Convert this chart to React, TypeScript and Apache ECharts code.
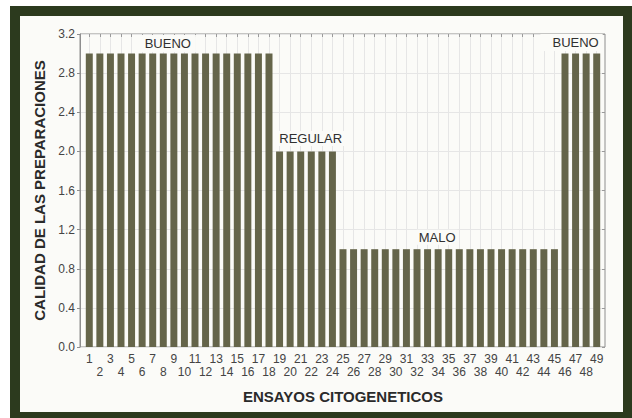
import React, { useEffect, useRef } from "react";
import * as echarts from "echarts";

const categories = [
  "1", "2", "3", "4", "5", "6", "7", "8", "9", "10",
  "11", "12", "13", "14", "15", "16", "17", "18", "19", "20",
  "21", "22", "23", "24", "25", "26", "27", "28", "29", "30",
  "31", "32", "33", "34", "35", "36", "37", "38", "39", "40",
  "41", "42", "43", "44", "45", "46", "47", "48", "49",
];

const calidad = [
  3, 3, 3, 3, 3, 3, 3, 3, 3, 3,
  3, 3, 3, 3, 3, 3, 3, 3, 2, 2,
  2, 2, 2, 2, 1, 1, 1, 1, 1, 1,
  1, 1, 1, 1, 1, 1, 1, 1, 1, 1,
  1, 1, 1, 1, 1, 3, 3, 3, 3,
];

const yTicks = [0, 0.4, 0.8, 1.2, 1.6, 2.0, 2.4, 2.8, 3.2];

const annotations = [
  { name: "BUENO", cat: "8", value: 3 },
  { name: "REGULAR", cat: "21", value: 2 },
  { name: "MALO", cat: "34", value: 1 },
  { name: "BUENO", cat: "47", value: 3 },
];

const FONT = "'Liberation Sans', Arial, Helvetica, sans-serif";
const INNER_BG = "#fbfbf8";

export default function App() {
  const ref = useRef<HTMLDivElement>(null);

  useEffect(() => {
    if (!ref.current) return;
    const chart = echarts.init(ref.current, undefined, { renderer: "svg" });

    const labelStyles = [
      { offset: [4, -10], padding: [3, 5, 1, 6] },
      { offset: [10, -13], padding: [1, 2, 1, 2] },
      { offset: [-1, -12], padding: [1, 2, 1, 2] },
      { offset: [-4, -11], padding: [3, 4, 1, 12] },
    ];

    const yMin = yTicks[0];
    const yMax = yTicks[yTicks.length - 1];
    const yInt = yTicks[1] - yTicks[0];

    chart.setOption({
      animation: false,
      backgroundColor: "transparent",
      textStyle: { fontFamily: FONT },
      grid: [
        { left: 84, right: 30, top: 34, bottom: 71 },
        {
          left: 80,
          right: 27,
          top: 34,
          bottom: 71,
          show: true,
          borderColor: "#8e8e8e",
          borderWidth: 1,
          backgroundColor: "transparent",
        },
      ],
      xAxis: [
        {
          type: "category",
          gridIndex: 0,
          data: categories,
          axisLine: { show: false },
          axisTick: { show: false },
          axisLabel: {
            interval: 0,
            fontSize: 12,
            color: "#444",
            margin: 5,
            lineHeight: 13,
            fontFamily: FONT,
            formatter: (v: string, i: number) => (i % 2 === 0 ? v : "\n" + v),
          },
          splitLine: {
            show: true,
            interval: 0,
            alignWithLabel: true,
            lineStyle: { color: "#e6e6e6", width: 1 },
          },
          name: "ENSAYOS CITOGENETICOS",
          nameLocation: "middle",
          nameGap: 42,
          nameTextStyle: {
            fontSize: 15,
            fontWeight: "bold",
            color: "#2a2a2a",
            fontFamily: FONT,
          },
        },
        {
          type: "category",
          gridIndex: 0,
          position: "top",
          data: categories,
          axisLine: { show: false },
          axisTick: {
            show: true,
            inside: true,
            length: 3,
            alignWithLabel: true,
            interval: 0,
            lineStyle: { color: "#9a9a9a" },
          },
          axisLabel: { show: false },
          splitLine: { show: false },
        },
        {
          type: "value",
          gridIndex: 1,
          min: 0,
          max: 1,
          show: false,
        },
      ],
      yAxis: [
        {
          type: "value",
          gridIndex: 0,
          min: yMin,
          max: yMax,
          interval: yInt,
          show: false,
        },
        {
          type: "value",
          gridIndex: 1,
          min: yMin,
          max: yMax,
          interval: yInt,
          axisLine: { show: true, lineStyle: { color: "#8e8e8e" } },
          axisTick: {
            show: true,
            inside: false,
            length: 3,
            lineStyle: { color: "#8e8e8e" },
          },
          axisLabel: {
            fontSize: 12,
            color: "#444",
            margin: 5,
            fontFamily: FONT,
            formatter: (v: number) => v.toFixed(1),
          },
          splitLine: { show: true, lineStyle: { color: "#e6e6e6", width: 1 } },
          name: "CALIDAD DE LAS PREPARACIONES",
          nameLocation: "middle",
          nameGap: 32,
          nameTextStyle: {
            fontSize: 15,
            fontWeight: "bold",
            color: "#2a2a2a",
            fontFamily: FONT,
          },
        },
        {
          type: "value",
          gridIndex: 1,
          position: "right",
          min: yMin,
          max: yMax,
          interval: yInt,
          axisLine: { show: false },
          axisTick: {
            show: true,
            inside: true,
            length: 3,
            lineStyle: { color: "#9a9a9a" },
          },
          axisLabel: { show: false },
          splitLine: { show: false },
        },
      ],
      series: [
        {
          type: "bar",
          xAxisIndex: 0,
          yAxisIndex: 0,
          data: calidad,
          barCategoryGap: "34%",
          itemStyle: { color: "#65654a" },
          markPoint: {
            symbol: "circle",
            symbolSize: 1,
            itemStyle: { color: "transparent" },
            label: {
              show: true,
              position: "inside",
              formatter: "{b}",
              fontSize: 13,
              color: "#303030",
              fontFamily: FONT,
              backgroundColor: INNER_BG,
            },
            data: annotations.map((a, i) => ({
              name: a.name,
              coord: [a.cat, a.value],
              label: {
                offset: labelStyles[i].offset,
                padding: labelStyles[i].padding,
              },
            })),
          },
        },
      ],
    });

    return () => chart.dispose();
  }, []);

  return (
    <div
      style={{
        position: "fixed",
        left: 0,
        top: 0,
        width: 632,
        height: 418,
        background: "#ffffff",
        overflow: "hidden",
      }}
    >
      <div
        style={{
          position: "absolute",
          left: 10,
          top: 6,
          width: 622,
          height: 412,
          background: "#2c3a1e",
        }}
      />
      <div
        style={{
          position: "absolute",
          left: 20,
          top: 16,
          width: 603,
          height: 396,
          background: INNER_BG,
        }}
      />
      <div
        ref={ref}
        style={{ position: "absolute", left: 0, top: 0, width: 632, height: 418 }}
      />
    </div>
  );
}
